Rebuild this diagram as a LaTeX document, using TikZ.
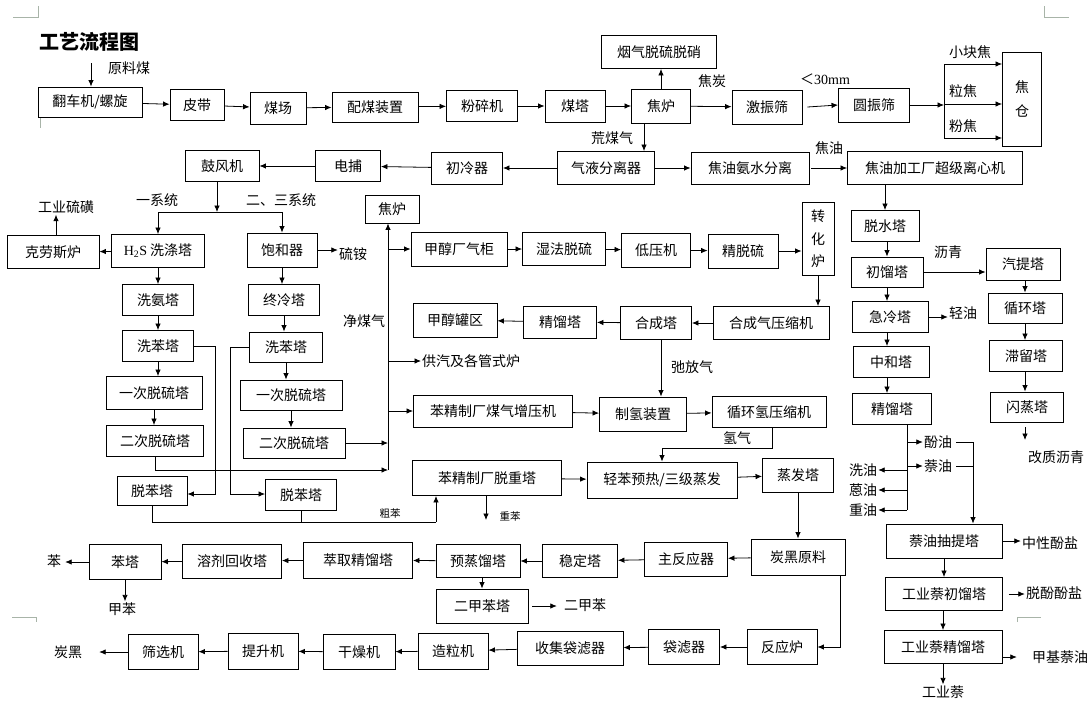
\documentclass[tikz,border=0pt]{standalone}
\usepackage{fontspec}
\setmainfont{Noto Sans CJK SC}
\newfontfamily\numfont{Liberation Serif}
\usetikzlibrary{arrows.meta,positioning}
\usepackage{xcolor}
\definecolor{mkgray}{HTML}{A8B4A8}
\tikzset{
    box/.style={
        draw,line width=0.9pt,fill=white,minimum height=#1,
        inner sep=2pt,align=center,font=\fontsize{14}{15.5}\selectfont
    },
    box/.default=32,
    lbl/.style={inner sep=1pt,font=\fontsize{14}{15.5}\selectfont},
    small/.style={inner sep=1pt,font=\fontsize{10.5}{12}\selectfont},
    arr/.style={-{Latex[length=6.5pt,width=5.5pt]},line width=0.8pt},
    ln/.style={line width=0.8pt},
    cornermk/.style={draw=mkgray,line width=0.8pt}
}

\begin{document}
\begin{tikzpicture}[x=1pt,y=-1pt]
\useasboundingbox (0,0) rectangle (1092,702);

% page marks
\draw[cornermk] (13,17) -- (38,17) -- (38,6);
\draw[cornermk] (1044,6) -- (1044,17) -- (1069,17);
\draw[cornermk] (12,617) -- (36,617) -- (36,622);
\draw[cornermk] (1017,622) -- (1017,617) -- (1041,617);
\draw[cornermk] (40,118) -- (40,128);

\node[lbl,font=\fontsize{20}{22}\selectfont\bfseries] (title) at (89,42) {工艺流程图};

% coal line
\node[lbl] (yuanliao) at (129,68) {原料煤};
\coordinate (ylin) at (91,63);
\node[box=30,minimum width=104] (fanche) at (90,102) {翻车机/螺旋};
\node[box=31,minimum width=54] (pidai) at (197,105) {皮带};
\node[box,minimum width=56] (meichang) at (278,108) {煤场};
\node[box=30,minimum width=86] (peimei) at (375,107) {配煤装置};
\node[box=31,minimum width=71] (fensui) at (482,106) {粉碎机};
\node[box,minimum width=60] (meita) at (575,106) {煤塔};
\node[box=34,minimum width=59] (jiaolu) at (661,106) {焦炉};
\node[box=33,minimum width=115] (yanqi) at (659,52) {烟气脱硫脱硝};
\node[lbl] (jiaotan) at (712,81) {焦炭};
\node[box=34,minimum width=70] (jizhen) at (767,107) {激振筛};
\node[lbl] (lt30) at (825,79) {＜{\numfont 30mm}};
\node[box=34,minimum width=71] (yuanzhen) at (874,105) {圆振筛};
\coordinate (sT) at (944,64);
\coordinate (sM) at (944,104);
\coordinate (sB) at (944,138);
\node[box=94,minimum width=39,inner sep=1pt] (jiaocang) at (1022,99) {焦\\[8pt]仓};
\node[lbl] (xkj) at (970,52) {小块焦};
\node[lbl] (lijiao) at (963,91) {粒焦};
\node[lbl] (fenjiao) at (963,126) {粉焦};

\draw[arr] (ylin) -- (ylin |- fanche.north);
\draw[arr] (fanche) -- (pidai);
\draw[arr] (pidai) -- (meichang);
\draw[arr] (meichang) -- (peimei);
\draw[arr] (peimei) -- (fensui);
\draw[arr] (fensui) -- (meita);
\draw[arr] (meita) -- (jiaolu);
\draw[arr] (jiaolu.north) -- (jiaolu.north |- yanqi.south);
\draw[arr] (jiaolu) -- (jizhen);
\draw[arr] ([xshift=5pt]jizhen.east) -- (yuanzhen.west);
\draw[arr] (yuanzhen.east) -- (yuanzhen.east -| sM);
\draw[ln] (sT) -- (sB);
\draw[arr] (sT) -- (sT -| jiaocang.west);
\draw[arr] (sM) -- (sM -| jiaocang.west);
\draw[arr] (sB) -- (sB -| jiaocang.west);

% gas line
\node[box=31,minimum width=74] (gufeng) at (222,166) {鼓风机};
\node[box=31,minimum width=65] (dianbu) at (348,166) {电捕};
\node[box,minimum width=71] (chuleng) at (467,168) {初冷器};
\node[box=33,minimum width=97] (qiye) at (606,168) {气液分离器};
\node[lbl] (huangmq) at (612,138) {荒煤气};
\node[box,minimum width=118] (jyfl) at (750,168) {焦油氨水分离};
\node[lbl] (jiaoyou) at (829,148) {焦油};
\node[box=33,minimum width=175] (jyjg) at (935,168) {焦油加工厂超级离心机};

\draw[arr] ([xshift=-17pt]jiaolu.south) -- ([xshift=-17pt]jiaolu.south |- qiye.north);
\draw[arr] (qiye) -- (chuleng);
\draw[arr] (chuleng) -- (dianbu);
\draw[arr] (dianbu) -- (gufeng);
\draw[arr] (qiye) -- (jyfl);
\draw[arr] ([xshift=2pt]jyfl.east) -- (jyfl.east -| jyjg.west);

% two systems
\coordinate (fork) at (217,212);
\coordinate (ks) at (56,0);
\node[lbl] (yixt) at (157,200) {一系统};
\node[lbl] (erxt) at (281,200) {二、三系统};
\node[lbl] (gyll) at (66,207) {工业硫磺};
\node[box=33,minimum width=92] (kelaosi) at (53,252) {克劳斯炉};
\node[box=33,minimum width=93] (hxd) at (158,251) {{\numfont H\textsubscript{2}S} 洗涤塔};
\node[box=34,minimum width=70] (baohe) at (282,250) {饱和器};
\node[lbl] (liuan) at (353,254) {硫铵};
\node[box=31,minimum width=71] (xian) at (158,300) {洗氨塔};
\node[box=31,minimum width=71] (zhongleng) at (284,300) {终冷塔};
\node[box=31,minimum width=71] (xbL) at (158,346) {洗苯塔};
\node[box=30,minimum width=73] (xbR) at (286,347) {洗苯塔};
\node[box=33,minimum width=96] (yiL) at (154,393) {一次脱硫塔};
\node[box=31,minimum width=97] (erL) at (155,441) {二次脱硫塔};
\node[box=30,minimum width=102] (yiR) at (291,395) {一次脱硫塔};
\node[box=30,minimum width=102] (erR) at (294,443) {二次脱硫塔};
\node[box=29,minimum width=70] (tbL) at (152,491) {脱苯塔};
\node[box=31,minimum width=71] (tbR) at (301,495) {脱苯塔};
\coordinate (xbLc) at (215,494);
\coordinate (xbRc) at (230,494);

\draw[arr] (gufeng.south -| fork) -- (fork);
\draw[ln] (hxd.north |- fork) -- (baohe.north |- fork);
\draw[arr] (hxd.north |- fork) -- (hxd.north);
\draw[arr] (baohe.north |- fork) -- (baohe.north);
\draw[arr] (hxd) -- (kelaosi);
\draw[arr] (ks |- kelaosi.north) -- (ks |- gyll.south);
\draw[arr] (baohe.east) -- (baohe.east -| liuan.west);
\draw[arr] (hxd) -- (xian);
\draw[arr] (xian) -- (xbL);
\draw[arr] (xbL.south) -- (xbL.south |- yiL.north);
\draw[arr] (yiL.south) -- (yiL.south |- erL.north);
\draw[arr] (baohe.south) -- (baohe.south |- zhongleng.north);
\draw[arr] (zhongleng.south) -- (zhongleng.south |- xbR.north);
\draw[arr] (xbR.south) -- (xbR.south |- yiR.north);
\draw[arr] (yiR.south) -- (yiR.south |- erR.north);
\draw[arr] (xbL.east) -| (xbLc) -- (xbLc -| tbL.east);
\draw[arr] (xbR.west) -| (xbRc) -- (xbRc -| tbR.west);

% clean gas
\coordinate (jm) at (388,470);
\node[box=28,minimum width=54] (jiaolu2) at (392,209) {焦炉};
\node[lbl] (jingmq) at (364,321) {净煤气};
\node[lbl,anchor=west] (gongqi) at (421,361) {供汽及各管式炉};
\draw[arr] (erL.south) |- (jm);
\draw[arr] (erR.east) -- (erR.east -| jm);
\draw[arr] (jm) -- (jm |- jiaolu2.south);

% methanol
\node[box=34,minimum width=96] (jcqg) at (459,249) {甲醇厂气柜};
\node[box=33,minimum width=83] (shifa) at (564,249) {湿法脱硫};
\node[box=34,minimum width=69] (diya) at (656,250) {低压机};
\node[box=34,minimum width=70] (jingtl) at (743,251) {精脱硫};
\node[box=73,minimum width=32,inner sep=1pt] (zhuanhua) at (818,239) {转\\[7pt]化\\[7pt]炉};
\node[box=33,minimum width=116] (hcqys) at (771,323) {合成气压缩机};
\node[box=33,minimum width=71] (hecheng) at (656,323) {合成塔};
\node[box,minimum width=73] (jingliu1) at (560,322) {精馏塔};
\node[box=34,minimum width=84] (jcgq) at (455,320) {甲醇罐区};
\node[lbl] (chifang) at (692,367) {弛放气};
\draw[arr] (jm |- jcqg.west) -- (jcqg.west);
\draw[arr] (jm |- gongqi.west) -- (gongqi.west);
\draw[arr] (jcqg) -- (shifa);
\draw[arr] (shifa) -- (diya);
\draw[arr] (diya) -- (jingtl);
\draw[arr] (jingtl) -- (jingtl.east -| zhuanhua.west);
\draw[arr] (zhuanhua.south) -- (zhuanhua.south |- hcqys.north);
\draw[arr] (hcqys) -- (hecheng);
\draw[arr] (hecheng) -- (jingliu1);
\draw[arr] (jingliu1) -- (jcgq);

% hydrogen and benzene
\node[box,minimum width=159] (bzzyj) at (493,411) {苯精制厂煤气增压机};
\node[box=34,minimum width=87] (zhiqing) at (643,414) {制氢装置};
\node[box=31,minimum width=114] (xhqys) at (769,412) {循环氢压缩机};
\node[lbl] (qingqi) at (737,438) {氢气};
\coordinate (hq) at (772,448);
\node[box=35,minimum width=149] (tzt) at (487,478) {苯精制厂脱重塔};
\node[box=36,minimum width=150] (qingben) at (662,480) {轻苯预热/三级蒸发};
\node[box=34,minimum width=71] (zhengfa) at (798,475) {蒸发塔};
\coordinate (cb) at (436,522);
\node[small] (cuben) at (390,513) {粗苯};
\coordinate (zb) at (486,520);
\node[small] (zhongben) at (510,516) {重苯};

\draw[arr] (jm |- bzzyj.west) -- (bzzyj.west);
\draw[arr] ([xshift=5pt]hecheng.south) -- ([xshift=5pt]hecheng.south |- zhiqing.north);
\draw[arr] (bzzyj) -- (zhiqing);
\draw[arr] (zhiqing) -- (xhqys);
\draw[arr] (hq |- xhqys.south) -- (hq) -| (qingben.north);
\draw[ln] (tbL.south) |- (cb);
\draw[ln] (tbR.south) -- (tbR.south |- cb);
\draw[arr] (cb) -- (cb |- tzt.south);
\draw[arr] (zb |- tzt.south) -- (zb);
\draw[arr] (tzt) -- (qingben);
\draw[arr] (qingben) -- (zhengfa);

% aromatics
\node[box=35,minimum width=72] (benta) at (125,562) {苯塔};
\node[lbl] (ben) at (54,561) {苯};
\node[lbl] (jiaben) at (122,609) {甲苯};
\node[box=34,minimum width=99] (rongji) at (232,561) {溶剂回收塔};
\node[box=36,minimum width=109] (cuiqu) at (358,560) {萃取精馏塔};
\node[box=33,minimum width=84] (yuzheng) at (478,561) {预蒸馏塔};
\node[box=34,minimum width=92] (erjbt) at (482,606) {二甲苯塔};
\node[lbl] (erjb) at (585,605) {二甲苯};
\node[box=33,minimum width=75] (wending) at (580,561) {稳定塔};
\node[box=34,minimum width=83] (zhufan) at (686,559) {主反应器};
\node[box=36,minimum width=94] (thyl) at (798,557) {炭黑原料};
\coordinate (thr) at (840,645);

\draw[arr] (zhengfa.south) -- (zhengfa.south |- thyl.north);
\draw[arr] (thyl) -- (zhufan);
\draw[arr] (zhufan) -- (wending);
\draw[arr] (wending) -- (yuzheng);
\draw[arr] (yuzheng) -- (cuiqu);
\draw[arr] (cuiqu) -- (rongji);
\draw[arr] (rongji) -- (benta);
\draw[arr,shorten >=3pt] (benta.west) -- (benta.west -| ben.east);
\draw[arr] (benta.south) -- (benta.south |- jiaben.north);
\draw[arr] (yuzheng.south -| erjbt) -- (erjbt.north);
\draw[arr,shorten <=4pt,shorten >=6pt] (erjbt.east) -- (erjbt.east -| erjb.west);

% carbon black
\node[box=35,minimum width=70] (fanying) at (782,647) {反应炉};
\node[box=35,minimum width=71] (daolv) at (684,647) {袋滤器};
\node[box=34,minimum width=106] (shouji) at (570,648) {收集袋滤器};
\node[box=36,minimum width=70] (zaoli) at (453,651) {造粒机};
\node[box=35,minimum width=72] (ganzao) at (359,652) {干燥机};
\node[box=36,minimum width=70] (tisheng) at (263,651) {提升机};
\node[box=35,minimum width=70] (shaixuan) at (163,652) {筛选机};
\node[lbl] (tanhei) at (68,652) {炭黑};

\draw[arr] (thr |- thyl.south) |- (fanying.east);
\draw[arr] (fanying) -- (daolv);
\draw[arr] (daolv) -- (shouji);
\draw[arr] (shouji) -- (zaoli);
\draw[arr] (zaoli) -- (ganzao);
\draw[arr] (ganzao) -- (tisheng);
\draw[arr] (tisheng) -- (shaixuan);
\draw[arr,shorten >=16pt] (shaixuan.west) -- (shaixuan.west -| tanhei.east);

% tar
\node[box=31,minimum width=68] (tuoshui) at (885,226) {脱水塔};
\node[box=30,minimum width=72] (chuliu) at (887,272) {初馏塔};
\node[lbl] (liqing) at (948,252) {沥青};
\node[box,minimum width=74] (qiti) at (1023,264) {汽提塔};
\node[box=30,minimum width=74] (xunhuan) at (1025,308) {循环塔};
\node[box=31,minimum width=73] (zhiliu) at (1026,356) {滞留塔};
\node[box=30,minimum width=73] (shanzheng) at (1027,407) {闪蒸塔};
\node[lbl] (gaizhi) at (1056,457) {改质沥青};
\coordinate (gz) at (1025,440);
\node[box=31,minimum width=76] (jileng) at (890,317) {急冷塔};
\node[lbl] (qingyou) at (963,313) {轻油};
\node[box=31,minimum width=76] (zhonghe) at (891,362) {中和塔};
\node[box=31,minimum width=79] (jingliu2) at (892,409) {精馏塔};
\coordinate (jv) at (907,510);
\node[lbl] (fenyou) at (938,442) {酚油};
\node[lbl] (naiyou) at (938,466) {萘油};
\node[lbl] (xiyou) at (863,470) {洗油};
\node[lbl] (enyou) at (863,490) {蒽油};
\node[lbl] (zhongyou) at (863,510) {重油};
\coordinate (nv) at (973,517);
\node[box=34,minimum width=116] (nycqt) at (944,541) {萘油抽提塔};
\node[lbl] (zhongxing) at (1050,543) {中性酚盐};
\node[box=33,minimum width=117] (gycl) at (944,594) {工业萘初馏塔};
\node[lbl] (tuofen) at (1054,593) {脱酚酚盐};
\node[box=33,minimum width=118] (gyjl) at (943,647) {工业萘精馏塔};
\node[lbl] (jjny) at (1060,657) {甲基萘油};
\node[lbl] (gyn) at (943,692) {工业萘};

\draw[arr] (tuoshui.north |- jyjg.south) -- (tuoshui.north);
\draw[arr] (tuoshui.south -| chuliu) -- (chuliu.north);
\draw[arr] (chuliu.east) -- (chuliu.east -| qiti.west);
\draw[arr] (qiti.south -| gz) -- (gz |- xunhuan.north);
\draw[arr] (xunhuan.south -| gz) -- (gz |- zhiliu.north);
\draw[arr] (zhiliu.south -| gz) -- (gz |- shanzheng.north);
\draw[arr,shorten <=5pt] (gz |- shanzheng.south) -- (gz);
\draw[arr] (chuliu.south) -- (chuliu.south |- jileng.north);
\draw[arr] (jileng.east) -- (jileng.east -| qingyou.west);
\draw[arr] (jileng.south -| chuliu) -- (chuliu |- zhonghe.north);
\draw[arr] (zhonghe.south -| chuliu) -- (chuliu |- jingliu2.north);
\draw[ln] (jingliu2.south -| jv) -- (jv);
\draw[arr] (jv |- fenyou.west) -- (fenyou.west);
\draw[arr] (jv |- naiyou.west) -- (naiyou.west);
\draw[arr] (jv |- xiyou.east) -- (xiyou.east);
\draw[arr] (jv |- enyou.east) -- (enyou.east);
\draw[arr] (jv |- zhongyou.east) -- (zhongyou.east);
\draw[ln,shorten <=3pt] (fenyou.east) -- (fenyou.east -| nv);
\draw[ln,shorten <=3pt] (naiyou.east) -- (naiyou.east -| nv);
\draw[arr] (nv |- fenyou.east) -- (nv |- nycqt.north);
\draw[arr] (nycqt.east) -- (nycqt.east -| zhongxing.west);
\draw[arr] (nycqt.south -| gycl) -- (gycl.north);
\draw[arr,shorten <=6pt] (gycl.east) -- (gycl.east -| tuofen.west);
\draw[arr] (gycl.south -| gyjl) -- (gyjl.north);
\draw[arr,shorten >=14pt] (gyjl.east |- jjny.west) -- (jjny.west);
\draw[arr] (gyjl.south) -- (gyn.north);

\end{tikzpicture}
\end{document}
